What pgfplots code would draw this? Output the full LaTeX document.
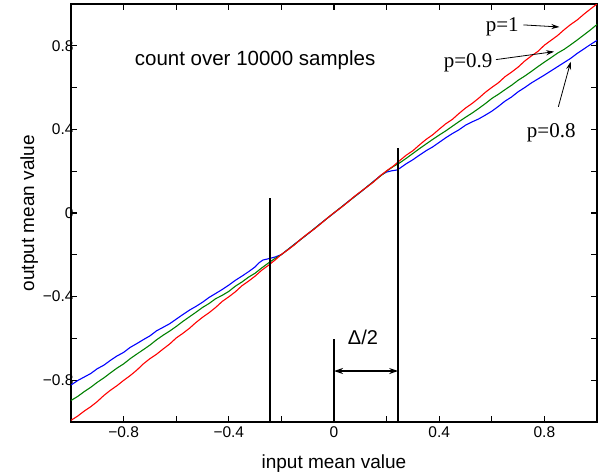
\documentclass[border=0pt]{standalone}
\usepackage{fontspec}
\setmainfont{Liberation Sans}
\newfontfamily\timesf{Liberation Serif}
\usepackage{pgfplots}
\pgfplotsset{compat=1.18}
\usetikzlibrary{arrows.meta}
\definecolor{pgreen}{RGB}{0,128,0}
\begin{document}
\begin{tikzpicture}
\path[use as bounding box] (-71pt,-53pt) rectangle (531pt,422pt);
\begin{axis}[
  at={(0,0)}, anchor=south west,
  scale only axis, width=526pt, height=418pt,
  xmin=-1, xmax=1, ymin=-1, ymax=1,
  axis line style={line width=1.2pt},
  tick style={line width=1.2pt, black},
  tick align=inside,
  major tick length=6pt, minor tick length=6pt,
  xtick={-0.8,-0.4,0,0.4,0.8},
  ytick={-0.8,-0.4,0,0.4,0.8},
  xticklabels={−0.8,−0.4,0,0.4,0.8},
  yticklabels={−0.8,−0.4,0,0.4,0.8},
  minor xtick={-0.6,-0.2,0.2,0.6},
  minor ytick={-0.6,-0.2,0.2,0.6},
  ticklabel style={font=\fontsize{15.5}{17}\selectfont},
  yticklabel style={xshift=6pt},
  xticklabel style={yshift=-1pt},
  xlabel={input mean value},
  ylabel={output mean value},
  label style={font=\fontsize{19}{21}\selectfont},
  xlabel style={yshift=-10pt},
  ylabel style={yshift=-2pt},
  clip=true,
]
% p = 0.8
\addplot[blue, line width=1.1pt] coordinates {
(-1.00,-0.823) (-0.975,-0.802) (-0.95,-0.785) (-0.925,-0.768) (-0.90,-0.745) (-0.875,-0.728) (-0.85,-0.705) (-0.825,-0.684) (-0.80,-0.667) (-0.775,-0.643)
(-0.75,-0.625) (-0.725,-0.606) (-0.70,-0.588) (-0.675,-0.564) (-0.65,-0.547) (-0.625,-0.530) (-0.60,-0.508) (-0.575,-0.486) (-0.55,-0.465) (-0.525,-0.447)
(-0.50,-0.427) (-0.475,-0.404) (-0.45,-0.385) (-0.425,-0.366) (-0.40,-0.345) (-0.375,-0.322) (-0.35,-0.302) (-0.325,-0.281) (-0.30,-0.258) (-0.285,-0.238)
(-0.27,-0.225) (-0.25,-0.219) (-0.225,-0.211) (-0.20,-0.199) (-0.15,-0.149) (-0.10,-0.101) (-0.05,-0.049) (0,0.000) (0.05,0.051) (0.10,0.099)
(0.15,0.151) (0.18,0.182) (0.20,0.196) (0.22,0.202) (0.24,0.206) (0.25,0.214) (0.275,0.236) (0.30,0.255) (0.325,0.277) (0.35,0.298)
(0.375,0.316) (0.40,0.338) (0.425,0.360) (0.45,0.380) (0.475,0.398) (0.50,0.420) (0.525,0.436) (0.55,0.450) (0.575,0.468) (0.60,0.487)
(0.625,0.510) (0.65,0.535) (0.675,0.555) (0.70,0.580) (0.725,0.600) (0.75,0.622) (0.775,0.641) (0.80,0.660) (0.825,0.680) (0.85,0.700)
(0.875,0.720) (0.90,0.740) (0.925,0.764) (0.95,0.785) (0.975,0.806) (1.00,0.826)
};
% p = 0.9
\addplot[pgreen, line width=1.1pt] coordinates {
(-1.00,-0.897) (-0.975,-0.878) (-0.95,-0.855) (-0.925,-0.834) (-0.90,-0.810) (-0.875,-0.789) (-0.85,-0.765) (-0.825,-0.742) (-0.80,-0.722) (-0.775,-0.697)
(-0.75,-0.675) (-0.725,-0.654) (-0.70,-0.632) (-0.675,-0.607) (-0.65,-0.585) (-0.625,-0.565) (-0.60,-0.543) (-0.575,-0.519) (-0.55,-0.497) (-0.525,-0.475)
(-0.50,-0.452) (-0.475,-0.433) (-0.45,-0.410) (-0.425,-0.394) (-0.40,-0.375) (-0.375,-0.350) (-0.35,-0.330) (-0.325,-0.307) (-0.30,-0.288) (-0.275,-0.263)
(-0.25,-0.240) (-0.225,-0.218) (-0.20,-0.199) (-0.15,-0.150) (-0.10,-0.100) (-0.05,-0.050) (0,0.001) (0.05,0.050) (0.10,0.100) (0.15,0.150)
(0.20,0.200) (0.225,0.222) (0.25,0.240) (0.275,0.262) (0.30,0.285) (0.325,0.308) (0.35,0.330) (0.375,0.352) (0.40,0.373) (0.425,0.393)
(0.45,0.415) (0.475,0.437) (0.50,0.458) (0.525,0.478) (0.55,0.500) (0.575,0.523) (0.60,0.548) (0.625,0.568) (0.65,0.590) (0.675,0.611)
(0.70,0.635) (0.725,0.655) (0.75,0.677) (0.775,0.700) (0.80,0.722) (0.825,0.743) (0.85,0.765) (0.875,0.783) (0.90,0.805) (0.925,0.828)
(0.95,0.852) (0.975,0.876) (1.00,0.902)
};
% p = 1
\addplot[red, line width=1.1pt] coordinates {
(-1.00,-0.992) (-0.975,-0.972) (-0.95,-0.948) (-0.925,-0.927) (-0.90,-0.902) (-0.875,-0.873) (-0.85,-0.848) (-0.825,-0.826) (-0.80,-0.801) (-0.775,-0.778)
(-0.75,-0.752) (-0.725,-0.722) (-0.70,-0.697) (-0.675,-0.676) (-0.65,-0.651) (-0.625,-0.627) (-0.60,-0.598) (-0.575,-0.576) (-0.55,-0.552) (-0.525,-0.524)
(-0.50,-0.499) (-0.475,-0.477) (-0.45,-0.452) (-0.425,-0.423) (-0.40,-0.401) (-0.375,-0.377) (-0.35,-0.348) (-0.325,-0.326) (-0.30,-0.302) (-0.275,-0.274)
(-0.25,-0.251) (-0.225,-0.226) (-0.20,-0.198) (-0.175,-0.176) (-0.15,-0.152) (-0.125,-0.124) (-0.10,-0.099) (-0.075,-0.077) (-0.05,-0.051) (-0.025,-0.024)
(0,0.001) (0.025,0.024) (0.05,0.049) (0.075,0.077) (0.10,0.101) (0.125,0.124) (0.15,0.148) (0.175,0.177) (0.20,0.202) (0.225,0.224)
(0.25,0.251) (0.275,0.277) (0.30,0.298) (0.325,0.326) (0.35,0.352) (0.375,0.374) (0.40,0.401) (0.425,0.427) (0.45,0.448) (0.475,0.476)
(0.50,0.502) (0.525,0.524) (0.55,0.549) (0.575,0.577) (0.60,0.601) (0.625,0.623) (0.65,0.652) (0.675,0.674) (0.70,0.698) (0.725,0.727)
(0.75,0.751) (0.775,0.773) (0.80,0.803) (0.825,0.826) (0.85,0.849) (0.875,0.877) (0.90,0.902) (0.925,0.924) (0.95,0.951) (0.975,0.976)
(1.00,1.000)
};
% vertical markers
\draw[line width=1.4pt] (axis cs:-0.243,-1) -- (axis cs:-0.243,0.072);
\draw[line width=1.4pt] (axis cs:0.244,-1) -- (axis cs:0.244,0.31);
\draw[line width=1.4pt] (axis cs:0,-1) -- (axis cs:0,-0.604);
\draw[line width=1.2pt, {Stealth[length=9pt,width=6pt]}-{Stealth[length=9pt,width=6pt]}] (axis cs:0,-0.756) -- (axis cs:0.244,-0.756);
\node[font=\fontsize{20}{22}\selectfont] at (axis cs:0.11,-0.595) {Δ/2};
% text
\node[font=\fontsize{20.5}{23}\selectfont] at (axis cs:-0.30,0.73) {count over 10000 samples};
\node[font=\timesf\fontsize{21}{23}\selectfont] at (axis cs:0.64,0.89) {p=1};
\draw[line width=0.8pt, -{Stealth[length=8pt,width=5pt]}] (axis cs:0.72,0.90) -- (axis cs:0.857,0.89);
\node[font=\timesf\fontsize{21}{23}\selectfont] at (axis cs:0.51,0.72) {p=0.9};
\draw[line width=0.8pt, -{Stealth[length=8pt,width=5pt]}] (axis cs:0.616,0.734) -- (axis cs:0.837,0.772);
\node[font=\timesf\fontsize{21}{23}\selectfont] at (axis cs:0.826,0.384) {p=0.8};
\draw[line width=0.8pt, -{Stealth[length=8pt,width=5pt]}] (axis cs:0.853,0.508) -- (axis cs:0.90,0.724);
\end{axis}
\end{tikzpicture}
\end{document}
